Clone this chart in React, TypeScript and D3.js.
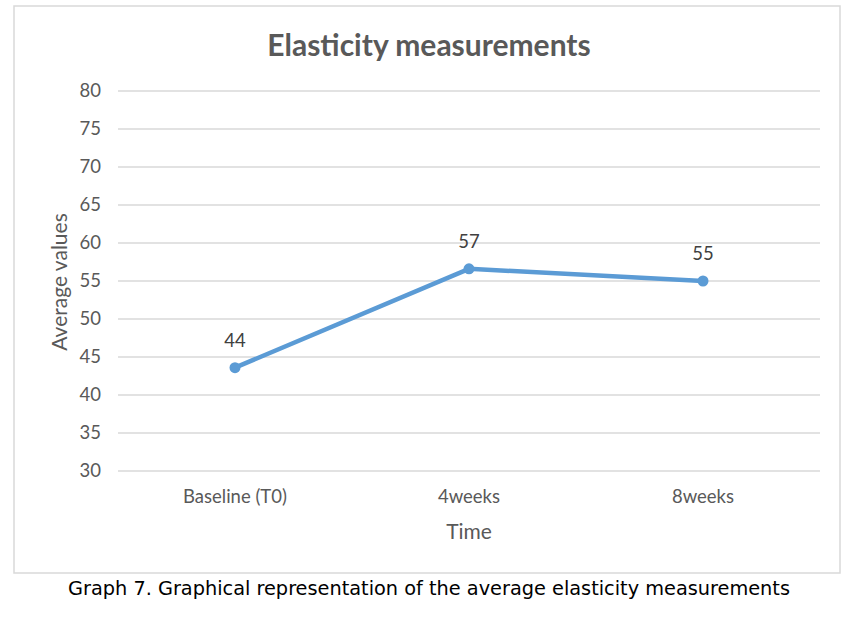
import { useEffect, useRef } from 'react';
import * as d3 from 'd3';

const categories = ['Baseline (T0)', '4weeks', '8weeks'];
const values = [43.6, 56.6, 55.0];
const valueLabels = ['44', '57', '55'];
const yTicks = [30, 35, 40, 45, 50, 55, 60, 65, 70, 75, 80];

const W = 860;
const H = 618;
const FONT = 'Lato, "Open Sans", sans-serif';

export default function App() {
  const svgRef = useRef<SVGSVGElement>(null);

  useEffect(() => {
    if (!svgRef.current) return;
    const svg = d3.select(svgRef.current);
    svg.selectAll('*').remove();

    svg.append('rect').attr('width', W).attr('height', H).attr('fill', '#fff');

    // chart frame
    svg
      .append('rect')
      .attr('x', 14)
      .attr('y', 6)
      .attr('width', 826)
      .attr('height', 567)
      .attr('fill', '#fff')
      .attr('stroke', '#d9d9d9')
      .attr('stroke-width', 1.5);

    const x = d3.scalePoint<string>().domain(categories).range([118, 820]).padding(0.5);
    const y = d3.scaleLinear().domain([30, 80]).range([471, 91]);

    // grid
    svg
      .append('g')
      .selectAll('line')
      .data(yTicks)
      .enter()
      .append('line')
      .attr('x1', 118)
      .attr('x2', 820)
      .attr('y1', (d) => y(d))
      .attr('y2', (d) => y(d))
      .attr('stroke', '#d9d9d9')
      .attr('stroke-width', 1.5);

    // y tick labels
    svg
      .append('g')
      .selectAll('text')
      .data(yTicks)
      .enter()
      .append('text')
      .attr('x', 101)
      .attr('y', (d) => y(d))
      .attr('dy', '0.35em')
      .attr('text-anchor', 'end')
      .attr('font-family', FONT)
      .attr('font-size', 18.5)
      .attr('fill', '#595959')
      .text((d) => d);

    // x labels
    svg
      .append('g')
      .selectAll('text')
      .data(categories)
      .enter()
      .append('text')
      .attr('x', (d) => x(d)!)
      .attr('y', 503)
      .attr('text-anchor', 'middle')
      .attr('font-family', FONT)
      .attr('font-size', 18.5)
      .attr('fill', '#595959')
      .text((d) => d);

    // line
    const line = d3
      .line<number>()
      .x((_, i) => x(categories[i])!)
      .y((d) => y(d));

    svg
      .append('path')
      .datum(values)
      .attr('fill', 'none')
      .attr('stroke', '#5b9bd5')
      .attr('stroke-width', 4.5)
      .attr('stroke-linejoin', 'round')
      .attr('d', line);

    svg
      .append('g')
      .selectAll('circle')
      .data(values)
      .enter()
      .append('circle')
      .attr('cx', (_, i) => x(categories[i])!)
      .attr('cy', (d) => y(d))
      .attr('r', 5.5)
      .attr('fill', '#5b9bd5');

    // data labels
    svg
      .append('g')
      .selectAll('text')
      .data(values)
      .enter()
      .append('text')
      .attr('x', (_, i) => x(categories[i])!)
      .attr('y', (d) => y(d) - 21)
      .attr('text-anchor', 'middle')
      .attr('font-family', FONT)
      .attr('font-size', 18.5)
      .attr('fill', '#404040')
      .text((_, i) => valueLabels[i]);

    // title
    svg
      .append('text')
      .attr('x', 429)
      .attr('y', 56)
      .attr('text-anchor', 'middle')
      .attr('font-family', FONT)
      .attr('font-weight', 'bold')
      .attr('font-size', 30)
      .attr('fill', '#595959')
      .text('Elasticity measurements');

    // axis titles
    svg
      .append('text')
      .attr('transform', 'translate(67,282) rotate(-90)')
      .attr('text-anchor', 'middle')
      .attr('font-family', FONT)
      .attr('font-size', 21)
      .attr('fill', '#595959')
      .text('Average values');

    svg
      .append('text')
      .attr('x', 469)
      .attr('y', 539)
      .attr('text-anchor', 'middle')
      .attr('font-family', FONT)
      .attr('font-size', 21)
      .attr('fill', '#595959')
      .text('Time');

    // caption
    svg
      .append('text')
      .attr('x', 429)
      .attr('y', 595)
      .attr('text-anchor', 'middle')
      .attr('font-family', '"DejaVu Sans Condensed", "DejaVu Sans", sans-serif')
      .attr('font-size', 20)
      .attr('textLength', 722)
      .attr('lengthAdjust', 'spacingAndGlyphs')
      .attr('fill', '#000')
      .text('Graph 7. Graphical representation of the average elasticity measurements');
  }, []);

  return (
    <svg
      ref={svgRef}
      width={W}
      height={H}
      style={{ position: 'absolute', left: 0, top: 0, display: 'block' }}
    />
  );
}
